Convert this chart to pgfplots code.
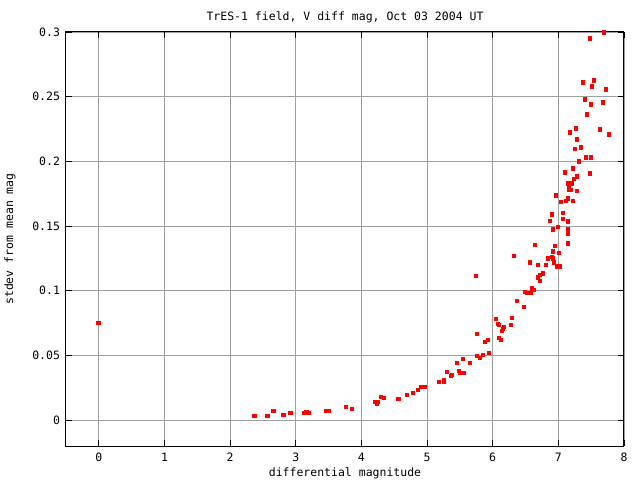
\documentclass[border=0pt]{standalone}
\usepackage{pgfplots}
\pgfplotsset{compat=1.18}
\usepackage{fontspec}
\setmainfont{DejaVu Sans Mono}
\definecolor{gridgray}{RGB}{160,160,160}

\begin{document}
\fontsize{11.5}{14}\selectfont
\begin{tikzpicture}
\path[use as bounding box] (-66pt,-34pt) rectangle (574pt,446pt);
\begin{axis}[
  at={(0,0)}, anchor=south west,
  scale only axis, width=558pt, height=414pt,
  xmin=-0.5, xmax=8, ymin=-0.02, ymax=0.3,
  xtick={0,1,2,3,4,5,6,7,8},
  xticklabels={0,1,2,3,4,5,6,7,8},
  ytick={0,0.05,0.1,0.15,0.2,0.25,0.3},
  yticklabels={0,0.05,0.1,0.15,0.2,0.25,0.3},
  scaled y ticks=false,
  tick align=inside,
  major tick length=6pt,
  every tick/.style={black, line width=0.8pt},
  grid=major,
  major grid style={gridgray, line width=0.8pt},
  axis line style={black, line width=1pt},
  xticklabel style={yshift=-3pt},
  yticklabel style={xshift=-2pt},
  title={TrES-1 field, V diff mag, Oct 03 2004 UT},
  title style={at={(axis description cs:0.5,1.022)}, anchor=center, yshift=0pt},
  xlabel={differential magnitude},
  xlabel style={at={(axis description cs:0.5,-0.0652)}, anchor=center},
  ylabel={stdev from mean mag},
  ylabel style={at={(axis description cs:-0.1004,0.5)}, anchor=center},
]
\addplot[only marks, red, mark=square*, mark size=1.6pt] coordinates {
(7.688,0.2998) (7.474,0.2952) (7.367,0.2612) (7.535,0.2627) (7.505,0.2581)
(7.718,0.2558) (7.398,0.2480) (7.672,0.2457) (7.489,0.2442) (7.428,0.2364)
(7.261,0.2256) (7.627,0.2248) (7.764,0.2210) (7.169,0.2225) (7.276,0.2171)
(7.245,0.2101) (7.337,0.2109) (7.413,0.2032) (7.489,0.2032) (7.306,0.2001)
(7.215,0.1947) (7.093,0.1916) (7.474,0.1908) (7.276,0.1885) (7.230,0.1869)
(7.139,0.1831) (7.200,0.1831) (7.154,0.1800) (7.154,0.1784) (7.184,0.1784)
(7.276,0.1776) (6.956,0.1738) (7.139,0.1715) (7.032,0.1691) (7.108,0.1699)
(7.215,0.1699) (6.895,0.1591) (7.063,0.1606) (7.063,0.1560) (6.864,0.1544)
(7.139,0.1537) (6.986,0.1498) (6.910,0.1475) (7.139,0.1475) (7.139,0.1444)
(6.636,0.1359) (6.941,0.1351) (7.139,0.1367) (6.910,0.1305) (7.002,0.1297)
(6.316,0.1274) (6.895,0.1266) (6.834,0.1251) (6.910,0.1251) (6.559,0.1220)
(6.681,0.1204) (6.803,0.1204) (6.925,0.1220) (6.971,0.1189) (7.017,0.1189)
(6.758,0.1135) (6.712,0.1127) (6.681,0.1104) (6.712,0.1080) (5.736,0.1119)
(6.590,0.1019) (6.620,0.1011) (6.483,0.0995) (6.514,0.0988) (6.575,0.0988)
(6.361,0.0926) (6.468,0.0879) (6.285,0.0794) (6.041,0.0787) (6.072,0.0748)
(6.087,0.0740) (6.270,0.0740) (6.163,0.0725) (6.148,0.0709) (6.133,0.0694)
(5.752,0.0671) (6.087,0.0640) (6.117,0.0624) (5.873,0.0609) (5.919,0.0624)
(5.934,0.0524) (5.752,0.0500) (5.797,0.0485) (5.843,0.0508) (5.538,0.0477)
(5.645,0.0446) (5.447,0.0446) (5.294,0.0377) (5.477,0.0384) (5.492,0.0369)
(5.553,0.0369) (5.370,0.0353) (5.355,0.0346) (5.172,0.0299) (5.248,0.0315)
(5.248,0.0299) (4.959,0.0261) (4.898,0.0261) (4.852,0.0237) (4.776,0.0214)
(4.684,0.0199) (4.562,0.0168) (4.547,0.0168) (4.288,0.0183) (4.334,0.0176)
(4.197,0.0145) (4.242,0.0145) (4.227,0.0129) (2.367,0.0036) (2.566,0.0036)
(2.657,0.0075) (2.809,0.0044) (2.916,0.0060) (3.130,0.0060) (3.160,0.0067)
(3.191,0.0060) (3.465,0.0075) (3.495,0.0075) (3.755,0.0106) (3.846,0.0090)
(-0.011,0.0756)
};
\end{axis}
\end{tikzpicture}
\end{document}
